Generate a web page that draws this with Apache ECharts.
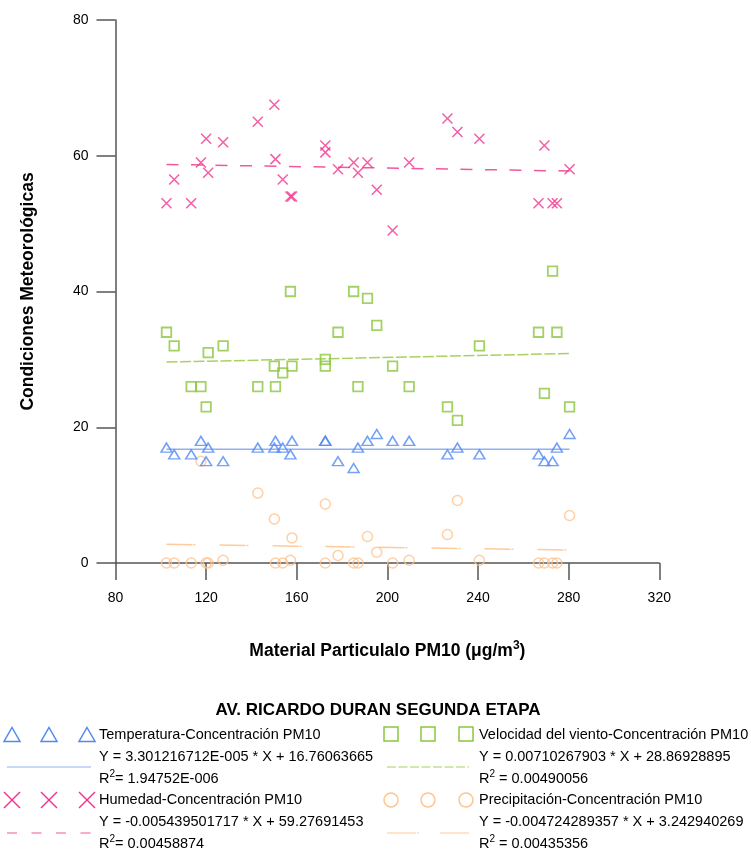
<!DOCTYPE html>
<html>
<head>
<meta charset="utf-8">
<script src="https://cdn.jsdelivr.net/npm/echarts@6/dist/echarts.min.js"></script>
<style>html,body{margin:0;padding:0;background:#fff;}#c{width:751px;height:851px;}</style>
</head>
<body>
<div id="c"></div>
<script>
// PM10 concentration (x) for each sample
const pm10 = [102.5,105.9,113.4,117.7,120.0,120.9,127.5,142.8,150.1,150.6,153.8,157.2,157.9,172.6,172.6,178.2,185.1,187.0,191.2,195.3,202.3,209.6,226.5,230.9,240.6,266.7,269.3,272.9,274.8,280.4];
const temperatura = [17,16,16,18,15,17,15,17,17,18,17,16,18,18,18,15,14,17,18,19,18,18,16,17,16,16,15,15,17,19];
const humedad = [53,56.5,53,59,62.5,57.5,62,65,67.5,59.5,56.5,54,54,61.5,60.5,58,59,57.5,59,55,49,59,65.5,63.5,62.5,53,61.5,53,53,58];
const viento = [34,32,26,26,23,31,32,26,29,26,28,40,29,30,29,34,40,26,39,35,29,26,23,21,32,34,25,43,34,23];
const precipitacion = [0,0,0,15,0,0,0.4,10.3,6.5,0,0,0.4,3.7,8.7,0,1.1,0,0,3.9,1.6,0,0.4,4.2,9.2,0.4,0,0,0,0,7.0];

// regression coefficients (from legend)
const slopes = [3.301216712E-005, -0.005439501717, 0.00710267903, -0.004724289357];
const intercepts = [16.76063665, 59.27691453, 28.86928895, 3.242940269];
const seriesNames = ['Temperatura-Concentración PM10','Humedad-Concentración PM10','Velocidad del viento-Concentración PM10','Precipitación-Concentración PM10'];
const equations = ['Y = 3.301216712E-005 * X + 16.76063665','Y = -0.005439501717 * X + 59.27691453','Y = 0.00710267903 * X + 28.86928895','Y = -0.004724289357 * X + 3.242940269'];
const r2Labels = ['R{sup|2}= 1.94752E-006','R{sup|2}= 0.00458874','R{sup|2} = 0.00490056','R{sup|2} = 0.00435356'];
const xTicks = [80,120,160,200,240,280,320];
const yTicks = [0,20,40,60,80];
const title = 'AV. RICARDO DURAN SEGUNDA ETAPA';

const FONT = '"Liberation Sans", Arial, sans-serif';
const cols = {
  temp: '#5189f2', tempLine: '#8fb2f5',
  hum: '#f2348f', humLine: '#f0589f',
  wind: '#8cc63f', windLine: '#a8d25e',
  prec: '#ffc48e', precLine: '#ffcc99'
};
const X_PATH = 'path://M0,0L10,10M10,0L0,10';

function pts(ys){ return pm10.map((x,i)=>[x, ys[i]]); }
const xmin = Math.min(...pm10), xmax = Math.max(...pm10);
function trend(k){ return [[xmin, slopes[k]*xmin+intercepts[k]], [xmax, slopes[k]*xmax+intercepts[k]]]; }

const chart = echarts.init(document.getElementById('c'), null, {renderer:'canvas'});

// legend graphics
const g = [];
const LF = '14.5px ';
g.push({type:'text', x: 378, y: 710, style:{text:title, font:'bold 17px '+FONT, fill:'#000', textAlign:'center', textVerticalAlign:'middle'}});
const rich = {sup:{fontSize:10, fontFamily:FONT, lineHeight:10, verticalAlign:'top', fill:'#000'}};
function texts(x, y0, k){
  g.push({type:'text', x:x, y:y0, style:{text:seriesNames[k], font:LF+FONT, fill:'#000', textVerticalAlign:'middle'}});
  g.push({type:'text', x:x, y:y0+22, style:{text:equations[k], font:LF+FONT, fill:'#000', textVerticalAlign:'middle'}});
  g.push({type:'text', x:x, y:y0+44, style:{text:r2Labels[k], font:LF+FONT, fill:'#000', textVerticalAlign:'middle', rich:rich, lineHeight:20}});
}
const lxs = [12, 49, 87], rxs = [391, 428, 466];
// triangles
lxs.forEach(x=>g.push({type:'polygon', shape:{points:[[x,727.5],[x+8,741.5],[x-8,741.5]]}, style:{fill:'none', stroke:cols.temp, lineWidth:1.5}}));
g.push({type:'line', shape:{x1:7,y1:767,x2:91,y2:767}, style:{stroke:cols.tempLine, lineWidth:1.2}});
texts(99, 735, 0);
// X marks
lxs.forEach(x=>g.push({type:'polyline', shape:{points:[[x-8,792],[x+8,808]]}, style:{stroke:cols.hum, lineWidth:1.5, fill:null}}));
lxs.forEach(x=>g.push({type:'polyline', shape:{points:[[x+8,792],[x-8,808]]}, style:{stroke:cols.hum, lineWidth:1.5, fill:null}}));
g.push({type:'line', shape:{x1:7,y1:833,x2:91,y2:833}, style:{stroke:cols.humLine, lineWidth:1.2, lineDash:[10,14.5]}});
texts(99, 800, 1);
// squares
rxs.forEach(x=>g.push({type:'rect', shape:{x:x-7,y:727,width:14,height:14}, style:{fill:'none', stroke:cols.wind, lineWidth:1.5}}));
g.push({type:'line', shape:{x1:387,y1:767,x2:469,y2:767}, style:{stroke:cols.windLine, lineWidth:1.2, lineDash:[9,2.5]}});
texts(479, 735, 2);
// circles
rxs.forEach(x=>g.push({type:'circle', shape:{cx:x,cy:800,r:7}, style:{fill:'none', stroke:cols.prec, lineWidth:1.5}}));
g.push({type:'line', shape:{x1:387,y1:833,x2:469,y2:833}, style:{stroke:cols.precLine, lineWidth:1.2, lineDash:[29,1,2,21]}});
texts(479, 800, 3);

const scatterBase = {type:'scatter', symbolSize:10, z:3};
const option = {
  animation:false,
  backgroundColor:'#fff',
  textStyle:{fontFamily:FONT},
  grid:{left:115.5, right:91.7, top:20, bottom:288, containLabel:false},
  xAxis:{
    type:'value', min:xTicks[0], max:xTicks[xTicks.length-1], interval:40,
    name:'Material Particulalo PM10 (μg/m{sup|3})', nameLocation:'middle', nameGap:77,
    nameTextStyle:{fontSize:17.5, fontWeight:'bold', color:'#000', fontFamily:FONT, lineHeight:22, rich:{sup:{fontSize:12, fontWeight:'bold', verticalAlign:'top', lineHeight:12, fontFamily:FONT}}},
    axisLine:{onZero:false, lineStyle:{color:'#555', width:1.5}},
    axisTick:{show:true, inside:false, length:17, lineStyle:{color:'#555', width:1.5}},
    axisLabel:{fontSize:14, color:'#000', margin:28, fontFamily:FONT},
    splitLine:{show:false}
  },
  yAxis:{
    type:'value', min:yTicks[0], max:yTicks[yTicks.length-1], interval:20,
    name:'Condiciones Meteorológicas', nameLocation:'middle', nameGap:78,
    nameTextStyle:{fontSize:17.5, fontWeight:'bold', color:'#000', fontFamily:FONT},
    axisLine:{show:true, lineStyle:{color:'#555', width:1.5}},
    axisTick:{show:true, inside:false, length:19, lineStyle:{color:'#555', width:1.5}},
    axisLabel:{fontSize:14, color:'#000', margin:27, fontFamily:FONT},
    splitLine:{show:false}
  },
  graphic:g,
  series:[
    {type:'line', data:trend(3), showSymbol:false, silent:true, z:2, lineStyle:{color:cols.precLine, width:1.5, type:[26,1,2,24]}},
    {type:'line', data:trend(0), showSymbol:false, silent:true, z:2, lineStyle:{color:cols.tempLine, width:1.5}},
    {type:'line', data:trend(2), showSymbol:false, silent:true, z:2, lineStyle:{color:cols.windLine, width:1.5, type:[11,2.5]}},
    {type:'line', data:trend(1), showSymbol:false, silent:true, z:2, lineStyle:{color:cols.humLine, width:1.5, type:[12,12.5]}},
    Object.assign({}, scatterBase, {name:seriesNames[3], data:pts(precipitacion), symbol:'circle', symbolSize:10, itemStyle:{color:'rgba(0,0,0,0)', borderColor:cols.prec, borderWidth:1.5}}),
    Object.assign({}, scatterBase, {name:seriesNames[0], data:pts(temperatura), symbol:'triangle', symbolSize:[11,9], itemStyle:{color:'rgba(0,0,0,0)', borderColor:cols.temp, borderWidth:1.5}}),
    Object.assign({}, scatterBase, {name:seriesNames[2], data:pts(viento), symbol:'rect', symbolSize:9.5, itemStyle:{color:'rgba(0,0,0,0)', borderColor:cols.wind, borderWidth:1.8}}),
    Object.assign({}, scatterBase, {name:seriesNames[1], data:pts(humedad), symbol:X_PATH, symbolSize:10, itemStyle:{color:'rgba(0,0,0,0)', borderColor:cols.hum, borderWidth:1.5}})
  ]
};
chart.setOption(option);
</script>
</body>
</html>
